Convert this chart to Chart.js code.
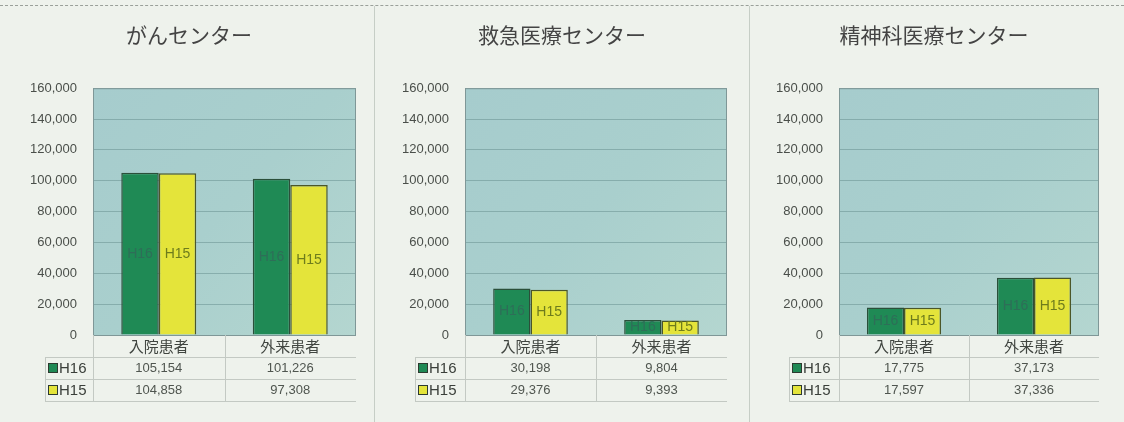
<!DOCTYPE html>
<html>
<head>
<meta charset="utf-8">
<script src="https://cdn.jsdelivr.net/npm/chart.js@4"></script>
<style>
    body { margin: 0; background: #eef2ec; width: 1124px; height: 422px; overflow: hidden; position: relative; }
    canvas { position: absolute; top: 0; }
    .topline { position: absolute; left: 0; top: 5px; width: 1124px; border-top: 1px dashed #9aa09a; }
    .sep { position: absolute; top: 6px; width: 1px; height: 416px; background: #c6cec6; }
</style>
</head>
<body>
<div class="topline"></div>
<div class="sep" style="left:374px"></div>
<div class="sep" style="left:749px"></div>
<canvas id="cancer" width="334" height="422" style="left:22px"></canvas>
<canvas id="emergency" width="330" height="422" style="left:397px"></canvas>
<canvas id="psych" width="330" height="422" style="left:769px"></canvas>
<script>
"use strict";

// Data
const categories = ['入院患者', '外来患者'];
const seriesNames = ['H16', 'H15'];
const centerTitles = ['がんセンター', '救急医療センター', '精神科医療センター'];

const cancerH16 = [105154, 101226];
const cancerH15 = [104858, 97308];
const emergencyH16 = [30198, 9804];
const emergencyH15 = [29376, 9393];
const psychH16 = [17775, 37173];
const psychH15 = [17597, 37336];

const yMin = 0;
const yMax = 160000;
const yStep = 20000;

const FONT = "'Liberation Sans', 'Noto Sans CJK JP', sans-serif";
const barFill = ['#1f8a55', '#e4e43a'];
const barBorder = ['#2b4f3a', '#4b5628'];
const labelColor = ['#2e6e58', '#6e7c1c'];

// Bakgrund i diagramytan
const plotBackground = {
    id: 'plotBackground',
    beforeDraw(chart) {
        const { ctx, chartArea: a } = chart;
        const g = ctx.createLinearGradient(a.left, a.top, a.right, a.bottom);
        g.addColorStop(0, '#a6cccd');
        g.addColorStop(0.5, '#a9cfcd');
        g.addColorStop(1, '#b4d6d0');
        ctx.save();
        ctx.fillStyle = g;
        ctx.fillRect(a.left, a.top, a.right - a.left, a.bottom - a.top);
        ctx.restore();
    },
    beforeDatasetsDraw(chart) {
        const { ctx, chartArea: a } = chart;
        ctx.save();
        ctx.strokeStyle = '#7f9797';
        ctx.lineWidth = 1;
        ctx.strokeRect(a.left + 0.5, a.top + 0.5, a.right - a.left - 1, a.bottom - a.top);
        ctx.restore();
    }
};

// H16/H15 inuti staplarna
const barLabels = {
    id: 'barLabels',
    afterDatasetsDraw(chart) {
        const ctx = chart.ctx;
        ctx.save();
        ctx.font = '14px ' + FONT;
        ctx.textAlign = 'center';
        ctx.textBaseline = 'middle';
        chart.data.datasets.forEach((ds, i) => {
            chart.getDatasetMeta(i).data.forEach(bar => {
                ctx.fillStyle = labelColor[i];
                ctx.fillText(ds.label, bar.x, (bar.y + bar.base) / 2);
            });
        });
        ctx.restore();
    }
};

// Datatabell under diagrammet
const dataTable = {
    id: 'dataTable',
    afterDraw(chart) {
        const { ctx, chartArea: a } = chart;
        const x = chart.scales.x;
        const tableLeft = chart.options.plugins.dataTable.left;
        const rowH = 22;
        const catBottom = a.bottom + rowH;
        const tableBottom = catBottom + rowH * seriesNames.length;
        const mid = (x.getPixelForValue(0) + x.getPixelForValue(1)) / 2;

        ctx.save();
        ctx.strokeStyle = '#c3c9c3';
        ctx.lineWidth = 1;
        ctx.beginPath();
        [a.left, mid, a.right].forEach(px => {
            ctx.moveTo(Math.round(px) + 0.5, a.bottom);
            ctx.lineTo(Math.round(px) + 0.5, tableBottom);
        });
        ctx.moveTo(tableLeft + 0.5, catBottom);
        ctx.lineTo(tableLeft + 0.5, tableBottom);
        for (let r = 0; r <= seriesNames.length; r++) {
            const y = catBottom + r * rowH + 0.5;
            ctx.moveTo(tableLeft, y);
            ctx.lineTo(a.right, y);
        }
        ctx.stroke();

        chart.data.datasets.forEach((ds, i) => {
            const cy = catBottom + rowH * i + rowH / 2;
            // legendnyckel
            ctx.fillStyle = barFill[i];
            ctx.strokeStyle = '#2d3a30';
            ctx.fillRect(tableLeft + 3, cy - 5, 10, 10);
            ctx.strokeRect(tableLeft + 3.5, cy - 4.5, 9, 9);
            ctx.fillStyle = '#3a3f3a';
            ctx.font = '15px ' + FONT;
            ctx.textAlign = 'left';
            ctx.textBaseline = 'middle';
            ctx.fillText(ds.label, tableLeft + 14, cy + 1);
            // värden
            ctx.fillStyle = '#4f554f';
            ctx.font = '13px ' + FONT;
            ctx.textAlign = 'center';
            ds.data.forEach((v, j) => {
                ctx.fillText(v.toLocaleString('en-US'), x.getPixelForValue(j), cy);
            });
        });
        ctx.restore();
    }
};

function drawCenter(canvasId, title, h16, h15, plotLeft, tableLeft) {
    const el = document.getElementById(canvasId);

    new Chart(el, {
        type: 'bar',
        data: {
            labels: categories,
            datasets: [h16, h15].map((values, i) => ({
                label: seriesNames[i],
                data: values,
                backgroundColor: barFill[i],
                borderColor: barBorder[i],
                borderWidth: 1.5,
                categoryPercentage: 0.57,
                barPercentage: 1.0
            }))
        },
        options: {
            responsive: false,
            animation: false,
            layout: { padding: { left: 0, right: 0, top: 0, bottom: 65 } },
            plugins: {
                legend: { display: false },
                tooltip: { enabled: false },
                title: {
                    display: true,
                    text: title,
                    color: '#444',
                    font: { size: 21, family: FONT, weight: 'normal', lineHeight: 1.2 },
                    padding: { top: 25, bottom: 38 }
                },
                dataTable: { left: tableLeft }
            },
            scales: {
                x: {
                    grid: { display: false, drawTicks: false },
                    border: { display: false },
                    ticks: { color: '#404540', font: { size: 15, family: FONT }, padding: 4 },
                    afterFit: scale => { scale.height = 22; }
                },
                y: {
                    min: yMin,
                    max: yMax,
                    grid: { color: 'rgba(105,145,145,0.55)', drawTicks: false },
                    border: { color: '#7f9797' },
                    ticks: {
                        stepSize: yStep,
                        padding: 16,
                        color: '#4a4f4a',
                        font: { size: 13, family: FONT },
                        callback: v => v.toLocaleString('en-US')
                    },
                    afterFit: scale => { scale.width = plotLeft; }
                }
            }
        },
        plugins: [plotBackground, barLabels, dataTable]
    });
}

drawCenter('cancer', centerTitles[0], cancerH16, cancerH15, 71, 23);
drawCenter('emergency', centerTitles[1], emergencyH16, emergencyH15, 68, 18);
drawCenter('psych', centerTitles[2], psychH16, psychH15, 70, 20);
</script>
</body>
</html>
